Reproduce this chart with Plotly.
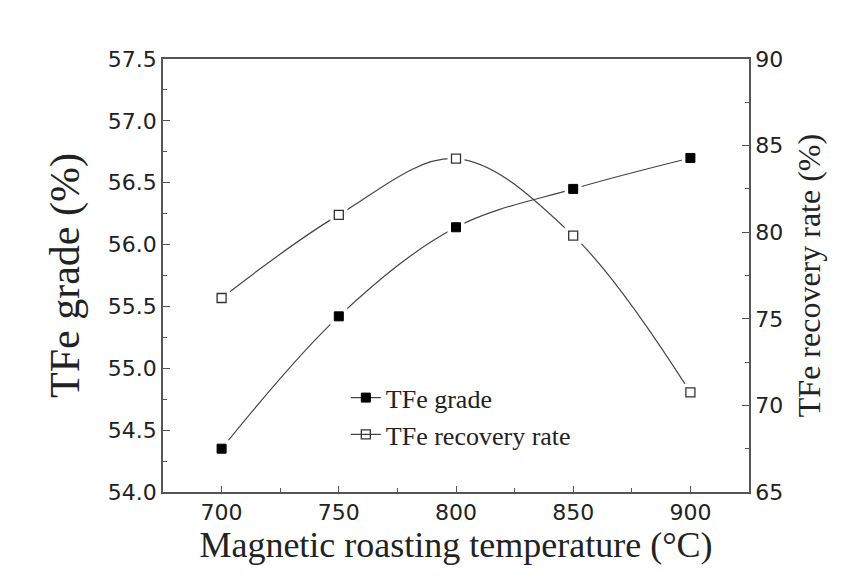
import plotly.graph_objects as go

temperature = [700, 750, 800, 850, 900]
tfe_grade = [54.35, 55.42, 56.14, 56.45, 56.70]
tfe_recovery = [76.2, 81.0, 84.25, 79.8, 70.75]

x_ticks = [700, 750, 800, 850, 900]
left_ticks = [54.0, 54.5, 55.0, 55.5, 56.0, 56.5, 57.0, 57.5]
right_ticks = [65, 70, 75, 80, 85, 90]

LINE = "#444444"
AX = "#555555"
TXT = "#222222"
serif = "Liberation Serif, Times New Roman, serif"
sans = "DejaVu Sans, Arial, sans-serif"

fig = go.Figure()

# grade series
fig.add_trace(go.Scatter(x=temperature, y=tfe_grade, mode="lines+markers", name="TFe grade",
                         line=dict(color=LINE, width=1.2, shape="spline", smoothing=1.0),
                         marker=dict(symbol="square", size=9, color="black", line=dict(color="black", width=1)),
                         yaxis="y"))
fig.add_trace(go.Scatter(x=temperature, y=tfe_grade, mode="markers", showlegend=False, hoverinfo="skip",
                         marker=dict(symbol="square", size=17, color="white"), yaxis="y"))
fig.add_trace(go.Scatter(x=temperature, y=tfe_grade, mode="markers", showlegend=False,
                         marker=dict(symbol="square", size=9, color="black", line=dict(color="black", width=1)),
                         yaxis="y"))

# recovery series
fig.add_trace(go.Scatter(x=temperature, y=tfe_recovery, mode="lines+markers", name="TFe recovery rate",
                         line=dict(color=LINE, width=1.2, shape="spline", smoothing=1.0),
                         marker=dict(symbol="square-open", size=9, color="#333333", line=dict(width=1.3)),
                         yaxis="y2"))
fig.add_trace(go.Scatter(x=temperature, y=tfe_recovery, mode="markers", showlegend=False, hoverinfo="skip",
                         marker=dict(symbol="square", size=17, color="white"), yaxis="y2"))
fig.add_trace(go.Scatter(x=temperature, y=tfe_recovery, mode="markers", showlegend=False,
                         marker=dict(symbol="square", size=9, color="white", line=dict(color="#333333", width=1.3)),
                         yaxis="y2"))

fig.update_layout(
    width=853, height=578,
    margin=dict(l=163, r=104, t=59, b=86),
    paper_bgcolor="white", plot_bgcolor="white",
    showlegend=True,
    legend=dict(x=0.312, y=0.272, xanchor="left", yanchor="top",
                bgcolor="rgba(0,0,0,0)", font=dict(family=serif, size=26, color=TXT),
                tracegroupgap=0, itemsizing="trace"),
    xaxis=dict(range=[675, 925], tickmode="array", tickvals=x_ticks,
               ticktext=[str(v) for v in x_ticks],
               ticks="inside", ticklen=6, tickwidth=1.3, tickcolor=AX,
               showline=True, linecolor=AX, linewidth=1.5, mirror=True,
               showgrid=False, zeroline=False,
               minor=dict(ticks="inside", ticklen=4, tickwidth=1.2, tickcolor=AX, dtick=25, showgrid=False),
               tickfont=dict(family=sans, size=22, color=TXT),
               title=dict(text="Magnetic roasting temperature (°C)",
                          font=dict(family=serif, size=36, color=TXT), standoff=2)),
    yaxis=dict(range=[54.0, 57.5], tickmode="array", tickvals=left_ticks,
               ticktext=[f"{v:.1f}" for v in left_ticks],
               ticks="inside", ticklen=7, tickwidth=1.3, tickcolor=AX,
               showline=True, linecolor=AX, linewidth=1.5,
               showgrid=False, zeroline=False,
               minor=dict(ticks="inside", ticklen=4, tickwidth=1.2, tickcolor=AX, dtick=0.25, showgrid=False),
               tickfont=dict(family=sans, size=22, color=TXT),
               title=dict(text="TFe grade (%)", font=dict(family=serif, size=42, color=TXT), standoff=15)),
    yaxis2=dict(range=[65, 90], tickmode="array", tickvals=right_ticks,
                ticktext=[str(v) for v in right_ticks],
                overlaying="y", side="right", anchor="x",
                ticks="inside", ticklen=7, tickwidth=1.3, tickcolor=AX,
                showline=True, linecolor=AX, linewidth=1.5,
                showgrid=False, zeroline=False,
                minor=dict(ticks="inside", ticklen=4, tickwidth=1.2, tickcolor=AX, dtick=2.5, showgrid=False),
                tickfont=dict(family=sans, size=22, color=TXT),
                title=dict(text="TFe recovery rate (%)", font=dict(family=serif, size=32, color=TXT), standoff=15)),
)

fig.write_html("out.html")
